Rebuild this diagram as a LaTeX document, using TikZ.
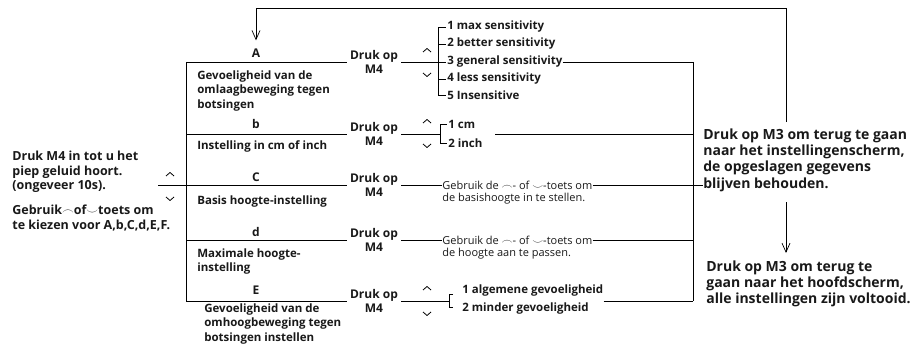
\documentclass[tikz,border=0pt]{standalone}
\usepackage{fontspec}
\setmainfont{Open Sans}
\usetikzlibrary{positioning,arrows.meta}

\newcommand{\keyup}{$\frown$}
\newcommand{\keydown}{$\smile$}
\newcommand{\chevup}[1]{\draw[chev] (#1) +(-4,2) -- +(0,-1.5) -- +(4,2);}
\newcommand{\chevdown}[1]{\draw[chev] (#1) +(-4,-2) -- +(0,1.5) -- +(4,-2);}

\begin{document}
\begin{tikzpicture}[
		x=1pt, y=-1pt
		,line width=.7pt
		,every node/.style={inner sep=0pt, text=black!90}
		,bt/.style={font=\fontsize{11.5}{14.5}\selectfont\bfseries, align=left}
		,lt/.style={font=\fontsize{12.5}{14.5}\selectfont\bfseries, align=left}
		,rt/.style={font=\fontsize{14}{16}\selectfont\bfseries, align=left}
		,st/.style={font=\fontsize{11}{13}\selectfont, align=left}
		,hdr/.style={font=\fontsize{12}{12}\selectfont\bfseries}
		,druk/.style={font=\fontsize{12}{14.5}\selectfont\bfseries, align=center, inner xsep=3pt}
		,opt/.style={bt, anchor=west}
		,arr/.style={-{Straight Barb[length=9pt,width=8pt]}}
		,chev/.style={line width=.8pt, line join=round}
	]
		\useasboundingbox (0,0) rectangle (911,345);

		% left menu
		\node[lt, anchor=west] (intro) at (12,172) {Druk M4 in tot u het\\piep geluid hoort.\\(ongeveer 10s).};
		\node[lt, anchor=west] (pick) at (12,218) {Gebruik\keyup of\keydown toets om\\te kiezen voor A,b,C,d,E,F.};
		\chevup{170,174}
		\chevdown{170,199}

		% rows
		\node[hdr] (hA) at (256,53) {A};
		\node[hdr] (hB) at (256,124) {b};
		\node[hdr] (hC) at (256,177) {C};
		\node[hdr] (hD) at (256,232) {d};
		\node[hdr] (hE) at (256,290) {E};

		\node[bt, anchor=north west] (tA) at (197,70) {Gevoeligheid van de\\omlaagbeweging tegen\\botsingen};
		\node[bt, anchor=north west] (tB) at (197,140) {Instelling in cm of inch};
		\node[bt, anchor=north west] (tC) at (197,195) {Basis hoogte-instelling};
		\node[bt, anchor=north west] (tD) at (197,248) {Maximale hoogte-\\instelling};
		\node[bt, anchor=north west] (tE) at (204,303) {Gevoeligheid van de\\omhoogbeweging tegen\\botsingen instellen};

		\node[druk] (dA) at (374,62) {Druk op\\M4};
		\node[druk] (dB) at (374,134) {Druk op\\M4};
		\node[druk] (dC) at (374,185) {Druk op\\M4};
		\node[druk] (dD) at (374,240) {Druk op\\M4};
		\node[druk] (dE) at (374,301) {Druk op\\M4};

		\coordinate (rTop) at (186,62);
		\coordinate (rBot) at (186,301);
		\coordinate (menu) at (158,185);
		\draw (rTop) -- (rBot);
		\draw (rTop) -- (dA);
		\draw (rTop |- dB) -- (dB);
		\draw (menu) -- (dC);
		\draw (rTop |- dD) -- (dD);
		\draw (rBot) -- (dE);

		% A options
		\node[opt] (oA1) at (447,27) {1 max sensitivity};
		\node[opt] (oA2) at (447,44) {2 better sensitivity};
		\node[opt] (oA3) at (447,62) {3 general sensitivity};
		\node[opt] (oA4) at (447,79) {4 less sensitivity};
		\node[opt] (oA5) at (447,95) {5 Insensitive};
		\draw ([xshift=-1.5pt]oA1.west) -| ([xshift=-9pt]oA5.west) -- ([xshift=-1.5pt]oA5.west);
		\draw ([xshift=-9pt]oA2.west) -- ([xshift=-1.5pt]oA2.west);
		\draw ([xshift=-9pt]oA3.west) -- ([xshift=-1.5pt]oA3.west);
		\draw ([xshift=-9pt]oA4.west) -- ([xshift=-1.5pt]oA4.west);
		\draw (dA) -- ([xshift=-9pt]oA3.west);
		\chevup{427,50}
		\chevdown{427,75}

		% b options
		\node[opt] (oB1) at (448,124) {1 cm};
		\node[opt] (oB2) at (448,143) {2 inch};
		\draw ([xshift=-1.5pt]oB1.west) -| ([xshift=-8pt]oB2.west) -- ([xshift=-1.5pt]oB2.west);
		\draw (dB) -- ([xshift=-8pt]oB1.west |- dB);
		\coordinate (bOut) at (495,134);
		\chevup{427,121}
		\chevdown{427,146}

		% C and d hints
		\node[st, anchor=west] (gC1) at (442,185) {Gebruik de \keyup- of \keydown-toets om};
		\node[st, below right=3pt and 0pt of gC1.south west] (gC2) {de basishoogte in te stellen.};
		\node[st, anchor=west] (gD1) at (442,240) {Gebruik de \keyup- of \keydown-toets om};
		\node[st, below right=3pt and 0pt of gD1.south west] (gD2) {de hoogte aan te passen.};

		% E options
		\node[opt] (oE1) at (462,291) {1 algemene gevoeligheid};
		\node[opt] (oE2) at (462,309) {2 minder gevoeligheid};
		\draw ([xshift=-9pt, yshift=-3pt]oE1.west) -| ([xshift=-13pt, yshift=2pt]oE2.west) -- ([xshift=-9pt, yshift=2pt]oE2.west);
		\draw (dE) -- ([xshift=-13pt]oE1.west |- dE);
		\chevup{427,288}
		\chevdown{427,314}

		% right side
		\node[rt, anchor=west] (back) at (703,185) {blijven behouden.};
		\node[rt, above right=2pt and 0pt of back.north west] (backtop) {Druk op M3 om terug te gaan\\naar het instellingenscherm,\\de opgeslagen gegevens};
		\node[rt, anchor=north west] (done) at (706,261) {Druk op M3 om terug te\\gaan naar het hoofdscherm,\\alle instellingen zijn voltooid.};

		\coordinate (cTop) at (693,62);
		\coordinate (cBot) at (693,301);
		\draw (cTop) -- (cBot);
		\draw (oA3) -- (cTop);
		\draw (bOut) -- (cTop |- dB);
		\draw (dC) -- (gC1) -- (back);
		\draw (dD) -- (gD1) -- (cTop |- gD1);
		\draw (oE1.east |- dE) -- (cBot);

		% return arrows
		\coordinate (retTop) at (786,8);
		\coordinate (retBot) at (786,122);
		\draw[arr, shorten >=8pt] (retBot) -- (retTop) -| (hA.north);
		\draw[arr, shorten <=10pt, shorten >=8pt] (back.south -| retTop) -- (done.north -| retTop);
	\end{tikzpicture}
\end{document}
